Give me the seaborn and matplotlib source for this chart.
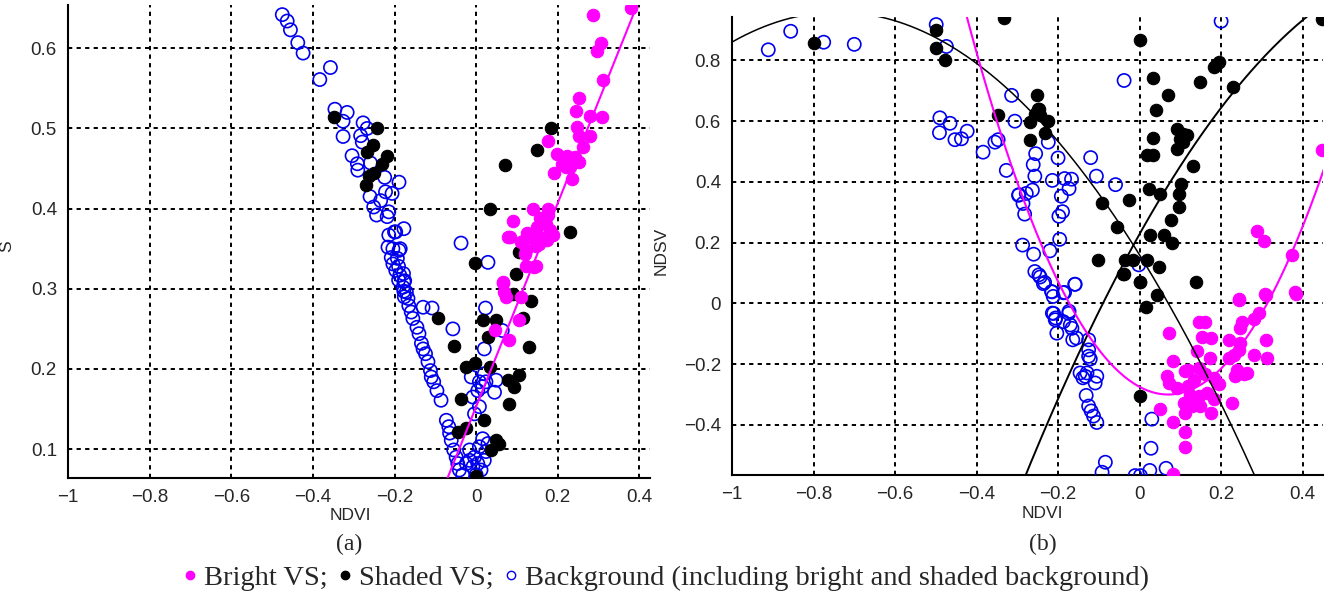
import numpy as np
import pandas as pd
import matplotlib
matplotlib.use("Agg")
import matplotlib.pyplot as plt
from matplotlib.lines import Line2D
import seaborn as sns

# ---- panel (a): NDVI vs S ----
a_bg_ndvi = [-0.475, -0.463, -0.455, -0.437, -0.424, -0.357, -0.383, -0.346, -0.316, -0.326,
             -0.277, -0.326, -0.267, -0.279, -0.283, -0.304, -0.291, -0.290, -0.259, -0.224,
             -0.189, -0.222, -0.206, -0.260, -0.234, -0.251, -0.214, -0.244, -0.218, -0.177,
             -0.197, -0.214, -0.037, -0.186, -0.204, -0.193, -0.190, -0.178, -0.190, -0.177,
             -0.177, -0.176, -0.200, -0.216, -0.189, -0.208, -0.204, -0.197, -0.187, -0.175,
             -0.179, -0.171, -0.167, -0.165, -0.159, -0.155, -0.145, -0.140, -0.130, -0.108,
             -0.134, -0.130, -0.124, -0.118, -0.112, -0.110, -0.104, -0.096, -0.086, -0.073,
             -0.067, -0.065, -0.061, -0.055, -0.049, -0.045, -0.041, -0.033, -0.024, -0.016,
             -0.008, -0.004, 0.004, 0.012, 0.020, 0.000, -0.016, 0.008, 0.024, 0.029,
             0.016, -0.004, 0.008, -0.008, 0.004, 0.016, -0.012, 0.008, 0.024, 0.045,
             0.049, 0.020, 0.020, 0.023, 0.064, -0.057, 0.029]
a_bg_s = [0.642, 0.634, 0.623, 0.607, 0.594, 0.576, 0.561, 0.524, 0.520, 0.509,
          0.507, 0.490, 0.500, 0.483, 0.491, 0.466, 0.456, 0.448, 0.457, 0.439,
          0.433, 0.421, 0.419, 0.415, 0.410, 0.402, 0.396, 0.392, 0.390, 0.375,
          0.371, 0.367, 0.357, 0.350, 0.350, 0.338, 0.328, 0.319, 0.311, 0.309,
          0.297, 0.290, 0.371, 0.352, 0.348, 0.339, 0.331, 0.323, 0.317, 0.310,
          0.302, 0.296, 0.288, 0.279, 0.271, 0.263, 0.252, 0.244, 0.277, 0.276,
          0.232, 0.225, 0.219, 0.209, 0.198, 0.190, 0.184, 0.173, 0.161, 0.136,
          0.128, 0.120, 0.111, 0.099, 0.090, 0.082, 0.074, 0.068, 0.082, 0.086,
          0.078, 0.090, 0.082, 0.074, 0.086, 0.068, 0.099, 0.103, 0.097, 0.107,
          0.113, 0.144, 0.153, 0.165, 0.173, 0.178, 0.190, 0.184, 0.184, 0.171,
          0.186, 0.194, 0.225, 0.276, 0.248, 0.250, 0.333]

a_shaded_ndvi = [-0.349, -0.244, -0.252, -0.267, -0.218, -0.230, -0.251, -0.263, -0.269,
                 -0.002, 0.104, 0.098, 0.090, 0.134, -0.094, 0.018, 0.049, 0.114, 0.029,
                 -0.055, 0.129, -0.024, -0.004, 0.033, 0.077, 0.104, 0.094, 0.080, -0.037,
                 0.020, -0.045, -0.024, 0.049, 0.057, 0.037, 0.000, 0.230, 0.183, 0.149,
                 0.071, 0.034]
a_shaded_s = [0.514, 0.500, 0.479, 0.471, 0.466, 0.456, 0.444, 0.441, 0.429,
              0.332, 0.346, 0.319, 0.294, 0.285, 0.263, 0.261, 0.261, 0.264, 0.240,
              0.229, 0.227, 0.202, 0.207, 0.202, 0.186, 0.192, 0.178, 0.156, 0.163,
              0.136, 0.122, 0.126, 0.111, 0.107, 0.099, 0.066, 0.371, 0.501, 0.473,
              0.455, 0.400]

a_bright_ndvi = [0.380, 0.287, 0.306, 0.296, 0.310, 0.251, 0.245, 0.279, 0.309, 0.247,
                 0.251, 0.279, 0.177, 0.261, 0.198, 0.222, 0.242, 0.251, 0.210, 0.230,
                 0.192, 0.220, 0.234, 0.139, 0.175, 0.177, 0.157, 0.171, 0.091, 0.149,
                 0.181, 0.083, 0.157, 0.189, 0.124, 0.140, 0.109, 0.147, 0.173, 0.143,
                 0.120, 0.147, 0.067, 0.077, 0.139, 0.114, 0.155, 0.179, 0.122, 0.143,
                 0.122, 0.065, 0.073, 0.110, 0.069, 0.106, 0.081, 0.045]
a_bright_s = [0.650, 0.641, 0.607, 0.596, 0.560, 0.538, 0.522, 0.516, 0.514, 0.502,
              0.491, 0.491, 0.484, 0.477, 0.468, 0.466, 0.464, 0.458, 0.456, 0.452,
              0.444, 0.452, 0.437, 0.400, 0.400, 0.392, 0.388, 0.381, 0.385, 0.377,
              0.373, 0.365, 0.365, 0.367, 0.369, 0.363, 0.358, 0.354, 0.361, 0.369,
              0.344, 0.328, 0.307, 0.364, 0.368, 0.360, 0.356, 0.366, 0.348, 0.327,
              0.329, 0.308, 0.290, 0.290, 0.296, 0.261, 0.236, 0.248]

# linear fit of bright VS in (a): slope, intercept
a_fit_bright = [1.27, 0.153]

# ---- panel (b): NDVI vs NDSV ----
b_bg_ndvi = [-0.911, -0.856, -0.775, -0.700, -0.499, -0.474, -0.490, -0.465, -0.491, -0.453,
             -0.437, -0.423, -0.384, -0.355, -0.347, -0.314, -0.306, -0.327, -0.297, -0.224,
             -0.255, -0.261, -0.200, -0.257, -0.120, -0.106, -0.059, -0.214, -0.184, -0.167,
             -0.173, -0.192, -0.263, -0.278, -0.296, -0.286, -0.282, -0.189, -0.198, -0.196,
             -0.287, -0.220, -0.260, -0.257, -0.247, -0.233, -0.216, -0.212, -0.184, -0.159,
             -0.002, -0.214, -0.206, -0.173, -0.038, 0.200, -0.244, -0.236, -0.215, -0.158,
             -0.187, -0.211, -0.203, -0.207, -0.187, -0.170, -0.166, -0.174, -0.164, -0.155,
             -0.125, -0.125, -0.125, -0.121, -0.146, -0.133, -0.129, -0.139, -0.105, -0.109,
             -0.131, -0.125, -0.119, -0.113, -0.105, 0.030, 0.028, -0.084, -0.092, -0.011,
             0.002, 0.025, 0.065]
b_bg_ndsv = [0.835, 0.896, 0.860, 0.853, 0.918, 0.846, 0.611, 0.593, 0.562, 0.539,
             0.542, 0.567, 0.498, 0.531, 0.539, 0.685, 0.600, 0.438, 0.356, 0.531,
             0.493, 0.457, 0.479, 0.419, 0.480, 0.419, 0.391, 0.405, 0.411, 0.409,
             0.378, 0.353, 0.373, 0.362, 0.358, 0.329, 0.294, 0.302, 0.287, 0.211,
             0.192, 0.173, 0.162, 0.105, 0.094, 0.069, 0.039, 0.023, 0.036, 0.063,
             0.127, -0.032, -0.048, -0.026, 0.734, 0.929, 0.087, 0.065, 0.038, 0.063,
             0.035, -0.033, -0.098, -0.054, -0.060, -0.071, -0.082, -0.033, -0.120, -0.114,
             -0.120, -0.153, -0.174, -0.183, -0.229, -0.240, -0.229, -0.245, -0.240, -0.262,
             -0.303, -0.338, -0.354, -0.371, -0.392, -0.381, -0.477, -0.523, -0.556, -0.567,
             -0.567, -0.550, -0.543]

b_shaded_ndvi = [-0.800, -0.499, -0.499, -0.478, -0.333, -0.347, -0.252, -0.250, -0.246, -0.256,
                 -0.245, -0.270, -0.224, -0.268, -0.233, -0.091, -0.025, -0.055, -0.101, -0.041,
                 -0.036, -0.015, 0.017, 0.048, 0.000, 0.043, 0.138, 0.025, 0.059, 0.080,
                 0.022, 0.051, 0.101, 0.096, 0.096, 0.078, 0.131, 0.017, 0.033, 0.033,
                 0.091, 0.091, 0.106, 0.106, 0.117, 0.099, 0.040, 0.070, 0.033, 0.000,
                 0.149, 0.183, 0.196, 0.188, 0.230, 0.448, -0.039, 0.002, 0.016, 0.002]
b_shaded_ndsv = [0.857, 0.899, 0.842, 0.803, 0.940, 0.619, 0.685, 0.640, 0.640, 0.625,
                 0.620, 0.597, 0.600, 0.539, 0.561, 0.330, 0.341, 0.251, 0.142, 0.098,
                 0.142, 0.142, 0.142, 0.120, 0.070, 0.027, 0.070, 0.224, 0.224, 0.199,
                 0.378, 0.361, 0.394, 0.361, 0.317, 0.273, 0.451, 0.487, 0.487, 0.545,
                 0.509, 0.575, 0.559, 0.531, 0.553, 0.542, 0.638, 0.685, 0.743, 0.868,
                 0.729, 0.778, 0.795, 0.784, 0.714, 0.937, 0.098, 0.071, -0.013, -0.305]

b_bright_ndvi = [0.382, 0.309, 0.243, 0.145, 0.161, 0.071, 0.251, 0.247, 0.292, 0.280,
                 0.153, 0.175, 0.219, 0.309, 0.141, 0.172, 0.243, 0.247, 0.231, 0.219,
                 0.280, 0.313, 0.083, 0.112, 0.120, 0.145, 0.161, 0.067, 0.071, 0.092,
                 0.120, 0.133, 0.182, 0.194, 0.239, 0.255, 0.264, 0.235, 0.124, 0.145,
                 0.165, 0.182, 0.149, 0.108, 0.112, 0.129, 0.174, 0.227, 0.051, 0.082,
                 0.112, 0.112, 0.083, 0.447, 0.289, 0.305, 0.375, 0.244, 0.307, 0.384]
b_bright_ndsv = [0.036, 0.029, 0.011, -0.060, -0.060, -0.098, -0.060, -0.082, -0.033, -0.052,
                 -0.109, -0.114, -0.120, -0.120, -0.158, -0.180, -0.153, -0.131, -0.169, -0.180,
                 -0.169, -0.180, -0.191, -0.223, -0.218, -0.213, -0.234, -0.240, -0.262, -0.278,
                 -0.272, -0.251, -0.245, -0.267, -0.218, -0.234, -0.229, -0.240, -0.300, -0.305,
                 -0.294, -0.316, -0.338, -0.327, -0.360, -0.338, -0.360, -0.327, -0.349, -0.392,
                 -0.425, -0.474, -0.561, 0.506, 0.240, 0.205, 0.158, 0.016, 0.030, 0.032]

# quadratic fits in (b): a, b, c
b_fit_shaded_1 = [-1.46, -2.161, 0.1595]
b_fit_shaded_2 = [-1.59, 2.396, 0.2285]
b_fit_bright = [5.09, -0.7167, -0.2748]

MAGENTA = "#ff00ff"
BLUE = "#0000ee"

sns.set_style("white")
plt.rcParams["font.family"] = ["Liberation Sans", "DejaVu Sans"]

fig = plt.figure(figsize=(13.43, 5.98), dpi=100)
ax_a = fig.add_axes([68 / 1343, 1 - 478 / 598, 582 / 1343, 473 / 598])
ax_b = fig.add_axes([732 / 1343, 1 - 475 / 598, 591 / 1343, 458 / 598])


def draw_points(ax, bg, shaded, bright):
    sns.scatterplot(x=bg[0], y=bg[1], ax=ax, marker="o", s=90,
                    facecolors="none", edgecolor=BLUE, linewidth=1.2, zorder=3)
    sns.scatterplot(x=shaded[0], y=shaded[1], ax=ax, marker="o", s=80,
                    color="black", edgecolor="black", linewidth=0.8, zorder=4)
    sns.scatterplot(x=bright[0], y=bright[1], ax=ax, marker="o", s=80,
                    color=MAGENTA, edgecolor=MAGENTA, linewidth=0.8, zorder=5)


def draw_fit(ax, coef, color, lw):
    xs = np.linspace(-1, 0.5, 400)
    df = pd.DataFrame({"x": xs, "y": np.polyval(coef, xs)})
    sns.lineplot(data=df, x="x", y="y", ax=ax, color=color, linewidth=lw,
                 sort=False, zorder=6)


def style_axes(ax, xlim, ylim, yticks, yticklabels, ylabel):
    ax.set_xlim(*xlim)
    ax.set_ylim(*ylim)
    xt = [-1, -0.8, -0.6, -0.4, -0.2, 0, 0.2, 0.4]
    ax.set_xticks(xt)
    ax.set_xticklabels(["\u22121", "\u22120.8", "\u22120.6", "\u22120.4", "\u22120.2", "0", "0.2", "0.4"])
    ax.set_yticks(yticks)
    ax.set_yticklabels(yticklabels)
    ax.tick_params(length=0, labelsize=13.5, pad=8)
    ax.grid(True, color="black", linestyle=(0, (2.2, 2.2)), linewidth=1.4)
    ax.set_axisbelow(True)
    for side in ["top", "right"]:
        ax.spines[side].set_visible(False)
    for side in ["left", "bottom"]:
        ax.spines[side].set_color("black")
        ax.spines[side].set_linewidth(1.5)
    ax.set_xlabel("NDVI", fontsize=12.5)
    ax.set_ylabel(ylabel, fontsize=12.5)


draw_points(ax_a, (a_bg_ndvi, a_bg_s), (a_shaded_ndvi, a_shaded_s), (a_bright_ndvi, a_bright_s))
draw_fit(ax_a, a_fit_bright, MAGENTA, 1.5)
style_axes(ax_a, (-1, 0.426), (0.064, 0.654),
           [0.1, 0.2, 0.3, 0.4, 0.5, 0.6], ["0.1", "0.2", "0.3", "0.4", "0.5", "0.6"], "S")
ax_a.xaxis.set_label_coords((350 - 68) / 582, (478 - 508) / 473)
ax_a.yaxis.set_label_coords((14 - 68) / 582, 0.49)

draw_points(ax_b, (b_bg_ndvi, b_bg_ndsv), (b_shaded_ndvi, b_shaded_ndsv), (b_bright_ndvi, b_bright_ndsv))
draw_fit(ax_b, b_fit_shaded_1, "black", 1.1)
draw_fit(ax_b, b_fit_shaded_2, "black", 1.4)
draw_fit(ax_b, b_fit_bright, MAGENTA, 1.5)
style_axes(ax_b, (-1, 0.45), (-0.565, 0.943),
           [-0.4, -0.2, 0, 0.2, 0.4, 0.6, 0.8],
           ["\u22120.4", "\u22120.2", "0", "0.2", "0.4", "0.6", "0.8"], "NDSV")
ax_b.xaxis.set_label_coords((1042 - 732) / 591, (475 - 506) / 458)
ax_b.yaxis.set_label_coords((669 - 732) / 591, 0.49)

serif = ["Liberation Serif", "DejaVu Serif"]
fig.text(349 / 1343, 1 - 544 / 598, "(a)", ha="center", va="center", fontsize=17, family=serif)
fig.text(1043 / 1343, 1 - 544 / 598, "(b)", ha="center", va="center", fontsize=17, family=serif)

handles = [
    Line2D([], [], linestyle="none", marker="o", markersize=6, color=MAGENTA),
    Line2D([], [], linestyle="none", marker="o", markersize=6, color="black"),
    Line2D([], [], linestyle="none", marker="o", markersize=6, markerfacecolor="none",
           markeredgecolor=BLUE, markeredgewidth=1.0),
]
labels = ["Bright VS;", "Shaded VS;", "Background (including bright and shaded background)"]
fig.legend(handles, labels, loc="center", bbox_to_anchor=(666 / 1343, 1 - 578 / 598),
           ncol=3, frameon=False, handlelength=0.5, handletextpad=0.25,
           columnspacing=0.35, prop={"family": serif, "size": 20.5}, borderpad=0)

fig.savefig("out.png", dpi=100)
